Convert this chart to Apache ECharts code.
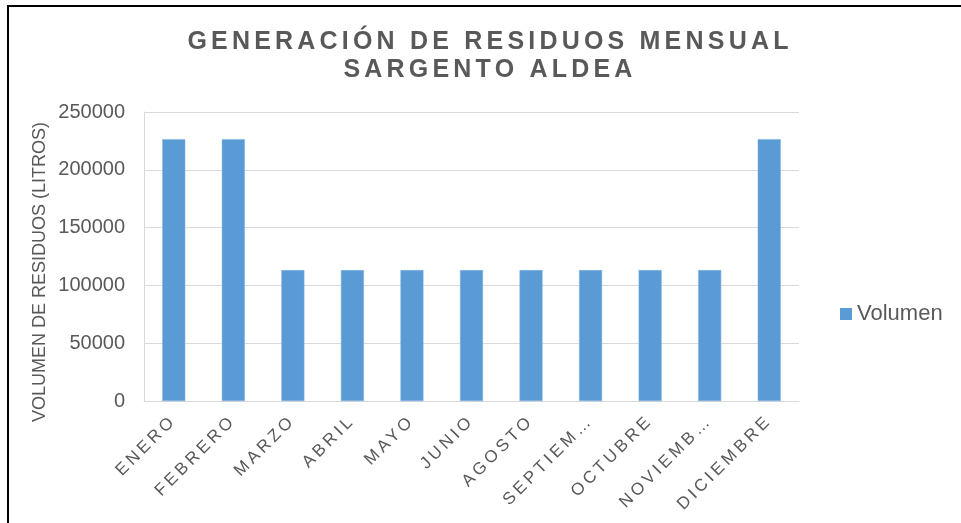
<!DOCTYPE html>
<html>
<head>
<meta charset="utf-8">
<script src="https://cdn.jsdelivr.net/npm/echarts@6/dist/echarts.min.js"></script>
<style>
html,body{margin:0;padding:0;background:#fff;}
#c{width:961px;height:523px;}
</style>
</head>
<body>
<div id="c"></div>
<script>
const categories = ['ENERO','FEBRERO','MARZO','ABRIL','MAYO','JUNIO','AGOSTO','SEPTIEM…','OCTUBRE','NOVIEMB…','DICIEMBRE'];
const volumen = [226500, 226500, 113250, 113250, 113250, 113250, 113250, 113250, 113250, 113250, 226500];
const seriesName = 'Volumen';
const titleLines = ['GENERACIÓN DE RESIDUOS MENSUAL', 'SARGENTO ALDEA'];
const yAxisTitle = 'VOLUMEN DE RESIDUOS (LITROS)';

// letter spacing only for the title and the category labels
(function(){
  const P = CanvasRenderingContext2D.prototype;
  const orig = P.fillText;
  P.fillText = function(t, x, y, m){
    const f = this.font || '';
    let ls = '0px';
    if (/bold|700/.test(f) && /25px/.test(f)) ls = '4.2px';
    else if (/(^|\s)17px/.test(f)) ls = '3.5px';
    if ('letterSpacing' in this) {
      if (this.letterSpacing !== ls) {
        this.letterSpacing = ls;
        this.font = f;
      }
    }
    return m === undefined ? orig.call(this, t, x, y) : orig.call(this, t, x, y, m);
  };
})();

const FONT = "'Liberation Sans', Arial, sans-serif";
const chart = echarts.init(document.getElementById('c'), null, {renderer: 'canvas'});
chart.setOption({
  animation: false,
  backgroundColor: '#ffffff',
  grid: {left: 144, right: 162, top: 112, bottom: 122, containLabel: false},
  legend: {
    data: [seriesName],
    left: 835, top: 298,
    icon: 'rect', itemWidth: 12, itemHeight: 12,
    itemStyle: {borderWidth: 0},
    textStyle: {fontSize: 22, color: '#595959', fontFamily: FONT}
  },
  xAxis: {
    type: 'category',
    data: categories,
    axisLine: {show: true, lineStyle: {color: '#d9d9d9', width: 1}},
    axisTick: {show: false},
    axisLabel: {interval: 0, rotate: 45, margin: 17, fontSize: 17, color: '#595959', fontFamily: FONT}
  },
  yAxis: {
    type: 'value',
    min: 0, max: 250000, interval: 50000,
    axisLine: {show: true, lineStyle: {color: '#d9d9d9', width: 1}},
    axisTick: {show: false},
    splitLine: {show: true, lineStyle: {color: '#d9d9d9', width: 1}},
    axisLabel: {margin: 19, fontSize: 20, color: '#595959', fontFamily: FONT, formatter: v => String(v)}
  },
  series: [{
    name: seriesName,
    type: 'bar',
    data: volumen,
    barWidth: 23,
    itemStyle: {color: '#5b9bd5', borderColor: '#7fb0e0', borderWidth: 0.5}
  }],
  graphic: [
    {type: 'text', x: 490, y: 42, style: {text: titleLines[0], align: 'center', verticalAlign: 'middle', fill: '#595959', font: "bold 25px 'Liberation Sans', Arial, sans-serif"}},
    {type: 'text', x: 490, y: 70, style: {text: titleLines[1], align: 'center', verticalAlign: 'middle', fill: '#595959', font: "bold 25px 'Liberation Sans', Arial, sans-serif"}},
    {type: 'text', x: 40, y: 272, rotation: Math.PI / 2, style: {text: yAxisTitle, align: 'center', verticalAlign: 'middle', fill: '#595959', font: "18px 'Liberation Sans', Arial, sans-serif"}},
    {type: 'polyline', shape: {points: [[8, 523], [8, 6], [961, 6]]}, style: {stroke: '#000000', lineWidth: 2, fill: null}}
  ]
});
</script>
</body>
</html>
